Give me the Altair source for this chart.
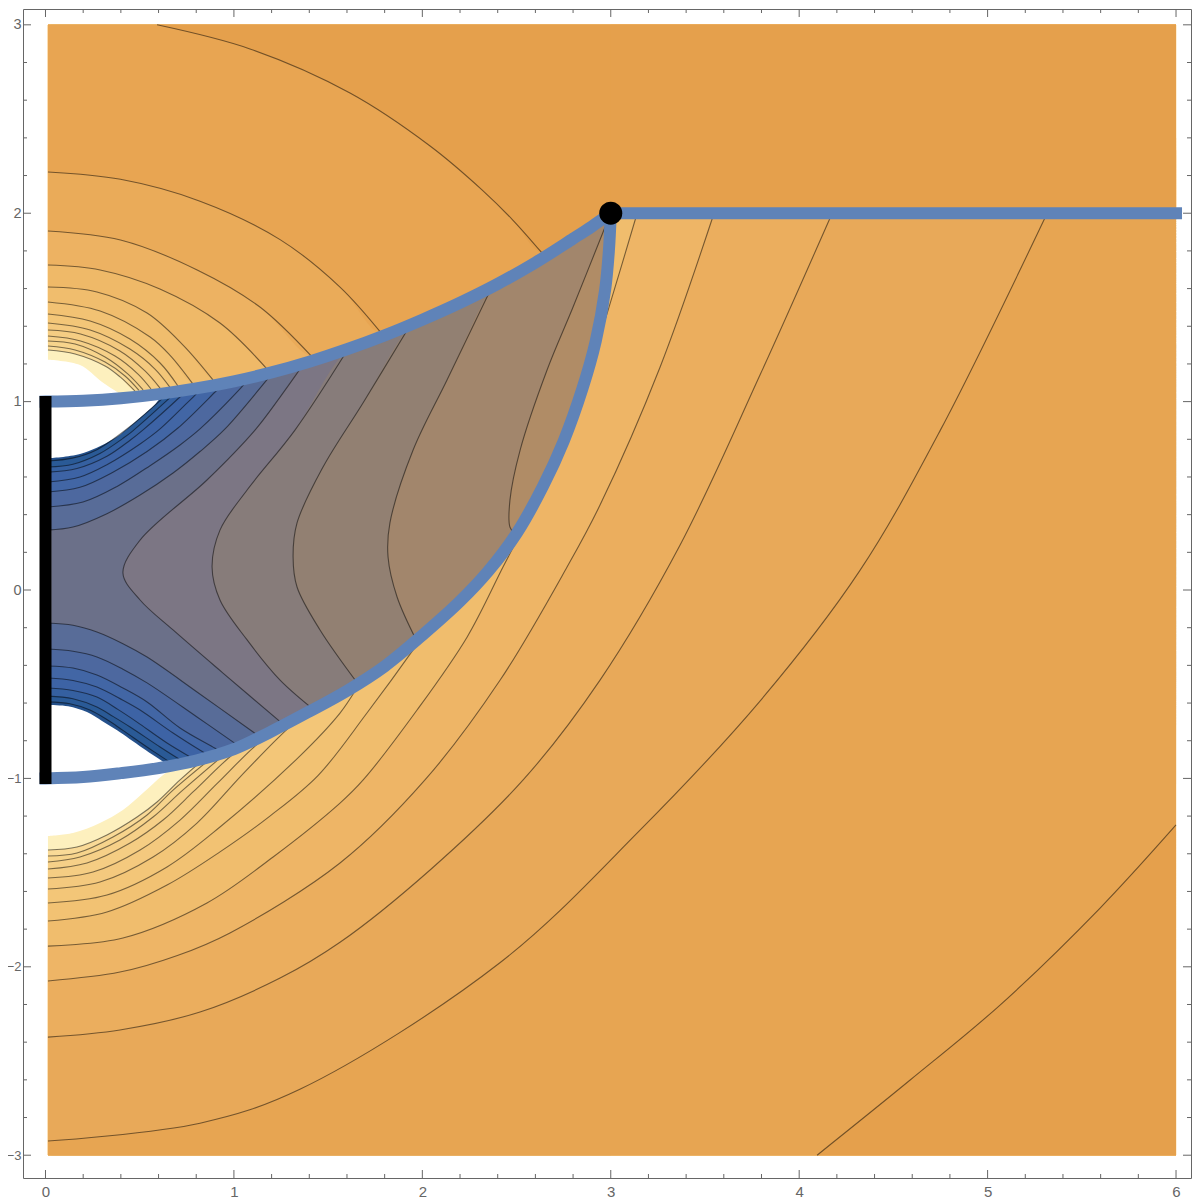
import altair as alt
import pandas as pd

# ---- guide curves
BLUE_UP = [(0,1.0),(.2,1.005),(.4,1.018),(.6,1.04),(.8,1.07),(1.0,1.108),(1.2,1.155),(1.4,1.212),(1.6,1.278),(1.8,1.352),
           (2.0,1.435),(2.2,1.525),(2.4,1.625),(2.6,1.738),(2.8,1.865),(2.9,1.93),(3,2)]
BLUE_LOW = [(0,-1),(.2,-.993),(.4,-.972),(.6,-.945),(.8,-.905),(1.0,-.845),(1.2,-.75),(1.4,-.645),(1.6,-.535),(1.8,-.405),
            (2.0,-.24),(2.2,-.06),(2.35,.1),(2.5,.3),(2.64,.55),(2.75,.79),(2.85,1.07),(2.92,1.32),(2.97,1.592),(2.99,1.8),(3,2)]
BLUE_RIGHT = [(3,2),(6,2)]

# ---- contours above the upper guide (innermost first)
U_HOLE = [(.013,1.222),(.183,1.194),(.3,1.104),(.38,1.051),(.42,1.025)]
U_A = [(.013,1.274),(.157,1.253),(.316,1.189),(.396,1.131),(.475,1.056)]
U_B = [(.013,1.295),(.157,1.274),(.316,1.21),(.422,1.136),(.496,1.06)]
U_C = [(.013,1.322),(.157,1.306),(.316,1.237),(.438,1.146),(.518,1.062)]
U_D = [(.013,1.348),(.186,1.322),(.369,1.242),(.491,1.146),(.56,1.067)]
U_E = [(.013,1.38),(.186,1.359),(.395,1.269),(.528,1.163),(.608,1.072)]
U_F = [(.013,1.417),(.237,1.38),(.448,1.279),(.581,1.173),(.66,1.077)]
U_G = [(.013,1.465),(.237,1.428),(.448,1.332),(.608,1.205),(.703,1.083)]
U_H = [(.013,1.529),(.29,1.481),(.555,1.343),(.66,1.247),(.783,1.093)]
U_I = [(.013,1.608),(.273,1.582),(.539,1.47),(.73,1.30),(.889,1.115)]
U_J = [(.013,1.725),(.29,1.699),(.607,1.598),(.926,1.417),(1.176,1.173)]
U_K = [(.013,1.906),(.398,1.858),(.805,1.699),(1.138,1.502),(1.415,1.237)]
U_L = [(.013,2.219),(.398,2.18),(.82,2.064),(1.245,1.86),(1.563,1.608),(1.79,1.354)]
U_M = [(.592,3.0),(1.085,2.872),(1.616,2.638),(2.041,2.357),(2.318,2.123),(2.48,1.964),(2.635,1.789)]
UPPER = [U_HOLE,U_A,U_B,U_C,U_D,U_E,U_F,U_G,U_H,U_I,U_J,U_K,U_L,U_M]

# ---- contours below the lower guide (innermost first)
L_HOLE = [(.013,-1.306),(.146,-1.29),(.289,-1.237),(.411,-1.168),(.517,-1.078),(.624,-.982),(.70,-.93)]
L_A = [(.013,-1.38),(.167,-1.364),(.326,-1.30),(.486,-1.205),(.592,-1.125),(.714,-1.008),(.85,-.89)]
L_B = [(.013,-1.412),(.167,-1.396),(.358,-1.311),(.539,-1.194),(.677,-1.062),(.92,-.86)]
L_C = [(.013,-1.444),(.183,-1.417),(.395,-1.327),(.571,-1.205),(.73,-1.061),(1.0,-.83)]
L_D = [(.013,-1.481),(.22,-1.449),(.449,-1.343),(.624,-1.221),(.783,-1.072),(.94,-.92),(1.1,-.78)]
L_E = [(.013,-1.529),(.252,-1.497),(.502,-1.38),(.714,-1.221),(.91,-1.028),(1.096,-.843),(1.23,-.73)]
L_F = [(.013,-1.587),(.289,-1.55),(.571,-1.417),(.804,-1.237),(1.032,-.993),(1.229,-.79),(1.41,-.62)]
L_G = [(.013,-1.661),(.326,-1.619),(.645,-1.47),(.926,-1.258),(1.351,-.88),(1.563,-.653),(1.64,-.54)]
L_H = [(.013,-1.757),(.326,-1.709),(.645,-1.566),(.926,-1.39),(1.191,-1.2),(1.446,-.985),(1.706,-.653),(1.951,-.318),(1.97,-.29)]
L_I = [(.013,-1.89),(.411,-1.847),(.857,-1.661),(1.208,-1.417),(1.563,-1.131),(1.686,-1.008),(1.972,-.637),(2.238,-.249),(2.428,.122),(2.52,.30),(2.768,.796),(2.906,1.237),(2.986,1.486),(3.14,2.0)]
L_J = [(.013,-2.075),(.395,-2.028),(.7,-1.94),(.979,-1.82),(1.563,-1.449),(2.014,-1.008),(2.413,-.478),(2.768,.122),(2.943,.451),(3.262,1.184),(3.548,2.0)]
L_K = [(.013,-2.373),(.395,-2.335),(.82,-2.24),(1.245,-2.06),(1.563,-1.87),(2.041,-1.486),(2.535,-1.008),(2.943,-.478),(3.368,.239),(3.792,1.141),(4.175,2.0)]
L_L = [(.013,-2.925),(.82,-2.83),(1.35,-2.65),(2.41,-1.98),(3.15,-1.28),(3.8,-.58),(4.32,.10),(4.75,.85),(5.316,2.0)]
L_M = [(4.095,-3.0),(4.589,-2.601),(5.066,-2.203),(5.597,-1.688),(6.0,-1.247)]
LOWER = [L_HOLE,L_A,L_B,L_C,L_D,L_E,L_F,L_G,L_H,L_I,L_J,L_K,L_L,L_M]

UPPER_COLORS = ["#FDF0BE","#F9DA97","#F7D48C","#F6D088","#F5CD83","#F4C97E","#F3C678","#F2C273",
                "#F0BD6D","#EFB968","#EDB262","#EAAB59","#E8A552","#E5A04C"]
LOWER_COLORS = ["#FDF0BE","#F9DA97","#F7D48C","#F6D088","#F5CD83","#F4C97E","#F3C678","#F2C273",
                "#F0BD6D","#EEB566","#EBAE5E","#E8A959","#E7A552","#E5A04C"]

# ---- contours of the central region
T_HOLE = [(.013,.70),(.183,.722),(.358,.80),(.502,.915),(.581,.985),(.634,1.04)]
B_HOLE = [(.013,-.61),(.12,-.617),(.22,-.648),(.30,-.695),(.38,-.745),(.517,-.84),(.645,-.925),(.70,-.96)]
T7 = [(.013,.685),(.143,.7),(.273,.745),(.449,.868),(.624,1.02),(.66,1.055)]
B7 = [(.013,-.594),(.13,-.604),(.236,-.637),(.33,-.69),(.411,-.745),(.571,-.855),(.671,-.92),(.70,-.935)]
T6 = [(.013,.653),(.146,.668),(.289,.725),(.411,.805),(.464,.845),(.671,1.03),(.703,1.06)]
B6 = [(.013,-.563),(.146,-.577),(.273,-.621),(.36,-.672),(.449,-.727),(.608,-.833),(.714,-.90),(.74,-.915)]
T5 = [(.013,.626),(.167,.645),(.326,.71),(.449,.795),(.518,.85),(.725,1.035),(.756,1.065)]
B5 = [(.013,-.52),(.146,-.533),(.273,-.568),(.386,-.635),(.486,-.701),(.645,-.812),(.783,-.895),(.80,-.905)]
T4 = [(.013,.573),(.183,.6),(.326,.665),(.502,.775),(.608,.855),(.794,1.035),(.836,1.075)]
B4 = [(.013,-.467),(.146,-.48),(.273,-.515),(.411,-.585),(.502,-.637),(.677,-.759),(.836,-.860),(.87,-.88)]
T3 = [(.013,.52),(.183,.545),(.358,.625),(.539,.735),(.703,.86),(.9,1.051),(.937,1.088)]
B3 = [(.013,-.403),(.146,-.414),(.273,-.451),(.411,-.52),(.539,-.594),(.714,-.732),(.9,-.84),(.93,-.86)]
T2 = [(.013,.441),(.199,.467),(.38,.55),(.555,.66),(.714,.77),(.82,.855),(1.016,1.05),(1.06,1.1)]
B2 = [(.013,-.313),(.146,-.325),(.273,-.355),(.411,-.42),(.539,-.493),(.804,-.674),(1.0,-.81),(1.03,-.83)]
T1 = [(.013,.318),(.146,.334),(.326,.405),(.502,.504),(.677,.621),(.82,.735),(.953,.855),(1.154,1.09),(1.202,1.15)]
B1 = [(.013,-.175),(.146,-.187),(.273,-.223),(.411,-.285),(.539,-.356),(.804,-.541),(1.102,-.754),(1.16,-.795)]
S1 = [(1.27,-.72),(.942,-.441),(.677,-.212),(.502,-.053),(.411,.09),(.502,.265),(.857,.584),(1.112,.849),(1.245,1.024),(1.37,1.20)]
S2 = [(1.43,-.64),(1.245,-.478),(1.07,-.265),(.926,-.053),(.884,.122),(.926,.318),(1.07,.531),(1.324,.849),(1.6,1.27)]
S3 = [(1.66,-.5),(1.457,-.212),(1.335,.016),(1.314,.175),(1.335,.356),(1.473,.653),(1.685,.993),(1.92,1.38)]
S4 = [(1.97,-.27),(1.866,-.037),(1.818,.175),(1.828,.356),(1.951,.743),(2.131,1.115),(2.36,1.59)]
S5 = [(2.49,.3),(2.465,.334),(2.465,.477),(2.519,.743),(2.662,1.168),(2.8,1.502),(2.97,1.927)]

SADDLES = [S1,S2,S3,S4,S5]
SADDLE_COLORS = ["#7C7684","#877C7A","#928072","#A2866C","#B08C66"]
TOPS = [T1,T2,T3,T4,T5,T6,T7,T_HOLE]
BOTTOMS = [B1,B2,B3,B4,B5,B6,B7,B_HOLE]
ARC_COLORS = ["#586C98","#4D689F","#4266A5","#3D63A5","#3560A0","#2A5A96","#24508A","#FFFFFF"]
CENTER_COLOR = "#6B7089"
TOP_BAND_COLOR = "#E5A04C"

TICK_MAJOR_X = [0,1,2,3,4,5,6]
TICK_MAJOR_Y = [-3,-2,-1,0,1,2,3]
TICK_STEPS = [k/5 for k in range(-15,31)]

BAR_Y = (-1.03, 1.03)
DOT = (3, 2)

# ---- sizes of the drawing
W, H = 1168, 1169
X_DOM = [-0.1194, 6.0795]
Y_DOM = [-3.121, 3.084]
GREY = "#666666"
CURVE = "catmull-rom"

x_scale = alt.Scale(domain=X_DOM, nice=False, zero=False)
y_scale = alt.Scale(domain=Y_DOM, nice=False, zero=False)
x_axis = alt.Axis(values=TICK_MAJOR_X, title=None, grid=False, domain=False, ticks=False,
                  labelFontSize=15, labelColor=GREY, labelPadding=6, labelFont="Liberation Sans", format="d")
y_axis = alt.Axis(values=TICK_MAJOR_Y, title=None, grid=False, domain=False, ticks=False,
                  labelFontSize={"condition": {"test": "datum.value < 0", "value": 13}, "value": 14.5},
                  labelColor=GREY, labelPadding=2, labelFont="Liberation Sans", format="d")
x_enc = alt.X("x:Q", scale=x_scale, axis=x_axis)
y_enc = alt.Y("y:Q", scale=y_scale, axis=y_axis)


def table(curve):
    d = pd.DataFrame(curve, columns=["x", "y"])
    d["i"] = range(len(d))
    return d


def long_table(curves):
    parts = []
    for k, c in enumerate(curves):
        d = table(c)
        d["band"] = k
        parts.append(d)
    return pd.concat(parts, ignore_index=True)


def x_keyed(poly, col, edge):
    return alt.Chart(table(poly)).mark_area(color=col, interpolate=CURVE, opacity=1).encode(
        x=x_enc, y=y_enc, y2=alt.Y2(datum=edge))


def y_keyed(poly, col):
    return alt.Chart(table(poly)).mark_area(color=col, interpolate=CURVE, orient="horizontal", opacity=1).encode(
        y=alt.Y("y:Q", scale=y_scale, axis=y_axis, stack=None, sort=None), x=x_enc, x2=alt.X2(datum=6.0))


def behind_bar(c, x0):
    return [(x0, c[0][1])] + list(c[1:])


fills = [x_keyed([(.03, 1.03), (.6, 1.03), (.75, 1.3), (6, 1.3)], CENTER_COLOR, -1.03)]
for c, col in zip(SADDLES, SADDLE_COLORS):
    ex, ey = c[-1]
    fills.append(y_keyed(list(c) + [p for p in BLUE_UP if p[1] > ey and p[0] > ex], col))
for k, (c, col) in enumerate(zip(TOPS, ARC_COLORS)):
    x0 = .02 if k == len(TOPS) - 1 else .03
    fills.append(x_keyed(behind_bar(c, x0) + [p for p in BLUE_UP if p[0] > c[-1][0] + .02], col, 3.0))
for k, (c, col) in enumerate(zip(BOTTOMS, ARC_COLORS)):
    x0 = .02 if k == len(BOTTOMS) - 1 else .03
    fills.append(x_keyed(behind_bar(c, x0) + [p for p in BLUE_LOW if p[0] > c[-1][0] + .02], col, -3.0))
for c, col in zip(UPPER, UPPER_COLORS):
    fills.append(x_keyed(list(c) + [p for p in BLUE_UP + [(6, 2)] if p[0] > c[-1][0] + .02], col, 3.0))
for c, col in zip(LOWER, LOWER_COLORS):
    ex, ey = c[-1]
    tail = []
    if ey >= 2:
        px, py = c[-2]
        tail = [(ex + (ex - px) / (ey - py) * .4, 2.4), (6, 2.4)]
    elif ex < 6:
        tail = [p for p in BLUE_LOW if p[0] > ex + .02 and p[1] > ey] + [(6, 2.4)]
    fills.append(x_keyed(list(c) + tail, col, -3.0))
fills.append(x_keyed(BLUE_RIGHT, TOP_BAND_COLOR, 3.0))

contour_style = dict(color="#000000", opacity=0.5, strokeWidth=1.1, interpolate=CURVE)
upper_lines = alt.Chart(long_table(UPPER[1:])).mark_line(**contour_style).encode(
    x=x_enc, y=y_enc, detail="band:N", order="i:Q")
lower_lines = alt.Chart(long_table(LOWER[1:])).mark_line(**contour_style).encode(
    x=x_enc, y=y_enc, detail="band:N", order="i:Q")
middle_lines = alt.Chart(long_table(TOPS[:-1] + BOTTOMS[:-1] + SADDLES)).mark_line(**contour_style).encode(
    x=x_enc, y=y_enc, detail="band:N", order="i:Q")

blue = alt.Chart(long_table([BLUE_UP, BLUE_LOW, BLUE_RIGHT])).mark_line(
    interpolate=CURVE, color="#5F83B8", strokeWidth=12, strokeCap="square").encode(
    x=x_enc, y=y_enc, detail="band:N", order="i:Q")

bar = alt.Chart(pd.DataFrame({"x": [0], "y": [BAR_Y[0]], "y2": [BAR_Y[1]]})).mark_rule(
    color="black", strokeWidth=12).encode(x=x_enc, y=y_enc, y2="y2:Q")
dot = alt.Chart(pd.DataFrame({"x": [DOT[0]], "y": [DOT[1]]})).mark_point(
    filled=True, color="black", size=529, opacity=1, strokeWidth=0).encode(x=x_enc, y=y_enc)

tick_table = pd.DataFrame({"v": TICK_STEPS})
tick_table["major"] = [float(v).is_integer() for v in TICK_STEPS]
x_ticks_t = tick_table[tick_table.v >= 0]
y_ticks_t = tick_table[tick_table.v <= 3]


def x_rule(t, y0, y1):
    return alt.Chart(t.rename(columns={"v": "x"})).mark_rule(color=GREY, strokeWidth=1).encode(
        x=x_enc, y=alt.value(y0), y2=alt.value(y1))


def y_rule(t, x0, x1):
    return alt.Chart(t.rename(columns={"v": "y"})).mark_rule(color=GREY, strokeWidth=1).encode(
        y=y_enc, x=alt.value(x0), x2=alt.value(x1))


xmaj = x_ticks_t[x_ticks_t.major]
xmin = x_ticks_t[~x_ticks_t.major]
ymaj = y_ticks_t[y_ticks_t.major]
ymin = y_ticks_t[~y_ticks_t.major]
ticks = [x_rule(xmaj, 0, 8), x_rule(xmin, 0, 4), x_rule(xmaj, H, H - 8), x_rule(xmin, H, H - 4),
         y_rule(ymaj, 0, 8), y_rule(ymin, 0, 4), y_rule(ymaj, W, W - 8), y_rule(ymin, W, W - 4)]

chart = alt.layer(
    *fills, middle_lines, upper_lines, lower_lines, blue, bar, dot, *ticks
).properties(
    width=W, height=H,
    autosize=alt.AutoSizeParams(type="none"),
    padding={"left": 15, "top": 1, "right": 1, "bottom": 22},
).configure_view(stroke=GREY, strokeWidth=1)

chart.save("out.html", embed_options={"renderer": "svg", "actions": False})
